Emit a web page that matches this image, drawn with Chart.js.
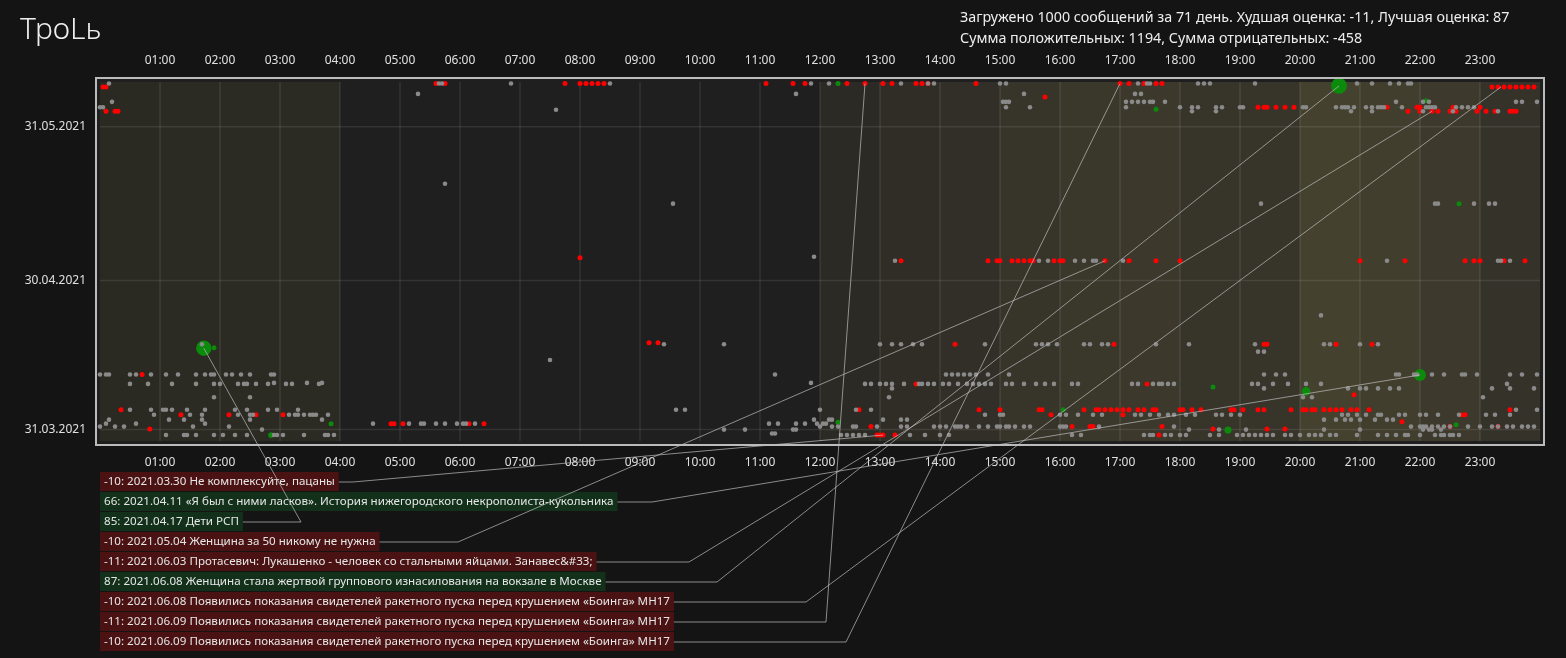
<!DOCTYPE html>
<html><head><meta charset="utf-8">
<script src="https://cdn.jsdelivr.net/npm/chart.js@4"></script>
<style>
body{margin:0;background:#141414;overflow:hidden;font-family:"Noto Sans",sans-serif;}
#wrap{position:absolute;left:0;top:0;width:1566px;height:658px;}
#title{position:absolute;left:20px;top:7px;color:#eee;font-size:30px;font-weight:300;}
#stats{position:absolute;left:960px;top:6px;color:#eee;font-size:14.3px;line-height:21px;}
</style></head><body>
<div id="wrap"><canvas id="c" width="1566" height="658"></canvas></div>
<div id="title">ТроLь</div>
<div id="stats">Загружено 1000 сообщений за 71 день. Худшая оценка: -11, Лучшая оценка: 87<br>Сумма положительных: 1194, Сумма отрицательных: -458</div>
<script>
// y = days since 31.03.2021, x = hour of day
const yTickDays = [0, 30, 61];
const yTickLabels = ['31.03.2021', '30.04.2021', '31.05.2021'];
const hourTicks = [1,2,3,4,5,6,7,8,9,10,11,12,13,14,15,16,17,18,19,20,21,22,23];
// hour band shading
const bandColors = ['#2a2a23','#2b2a23','#2b2a23','#2b2a23','#1f1f1f','#1f1f1f','#1f1f1f','#1f1f1f','#1f1f1f','#1f1f1f','#1f1f1f','#1f1f1f',
 '#2b2a24','#2f2d26','#322f28','#37342a','#3a372b','#3c382c','#37342a','#37342a','#45412f','#423e2e','#3d392c','#35322a'];

const grayRows = [
 [69.7, 0.15,5.65,5.7,6.85,8.5,11.85,12.15,13.35,13.8,13.9,15.0,15.1,17.3,17.45,17.5,18.3,18.4,18.5,19.25,20.95,21.2,21.5,21.65,21.8,21.85],
 [67.6, 5.3,11.6,15.4,17.25,17.35],
 [66.0, 0.2,15.05,15.1,15.15,17.1,17.2,17.3,17.4,17.5,17.55,17.75,21.6,22.05,22.15,23.6,23.7,23.95],
 [64.9, 0.0,0.05,15.1,15.5,17.1,18.0,18.2,18.3,18.6,18.7,19.0,19.05,20.05,20.1,20.6,20.7,20.75,20.8,20.9,21.1,21.2,21.3,21.35,21.4,21.7,22.1,22.15,22.2,22.25,22.6,22.7,22.8,22.9],
 [64.1, 18.2,18.6,20.85,21.2,22.05,22.55,23.3],
 [64.4, 7.6],
 [49.5, 5.75],
 [45.5, 9.55,19.35,22.25,22.3,22.9,23.15,23.25],
 [34.8, 11.9],
 [34.0, 13.25,15.65,15.8,16.25,16.4,16.55,16.6,17.05,21.45,23.3,23.35,23.5],
 [23.0, 20.35],
 [17.2, 1.7,9.4,10.4,13.0,13.2,13.35,13.55,13.7,14.75,15.6,15.7,15.8,15.95,16.4,16.5,16.7,16.8,17.6,18.15,19.25,20.4,20.5,21.0,21.3],
 [15.7, 19.3,19.4],
 [14.0, 7.5],
 [11.1, 0.0,0.1,0.15,0.5,0.6,0.85,1.1,1.3,1.6,1.75,1.85,1.9,2.1,2.2,2.35,2.5,2.85,2.9,11.25,14.1,14.2,14.3,14.4,14.5,14.6,14.8,15.15,19.4,19.6,19.75,21.6,21.65,21.9,21.95,22.2,22.4,22.7,22.75,22.95,23.5,23.7,23.95],
 [9.4, 2.9,3.45,3.7,11.85],
 [9.2, 0.5,0.8,1.2,1.6,1.9,2.0,2.3,2.4,2.45,2.6,2.8,3.1,3.2,3.65,12.75,12.85,13.0,13.1,13.2,13.4,13.65,13.7,13.8,13.9,14.05,14.15,14.3,14.45,14.55,14.65,14.75,14.85,15.1,15.2,15.4,15.6,15.75,15.9,16.2,16.3,17.2,17.3,17.55,17.65,17.7,17.8,17.9,19.2,19.3,19.55,19.8,20.1,20.35,23.45],
 [8.3, 13.2,19.4,20.8,21.0,21.1,21.3,21.5,21.65,23.2,23.5,23.9],
 [6.5, 1.9,2.5,20.05,20.2,23.05,13.15],
 [4.0, 0.5,0.85,1.05,1.1,1.2,1.45,1.75,2.25,2.45,2.8,2.95,3.3,9.6,9.75,12.0,12.6,12.85,23.6,23.95],
 [3.0, 0.9,1.5,1.7,2.3,2.5,2.55,3.15,3.25,3.3,3.4,3.5,3.55,3.6,3.8,14.75,15.0,15.05,16.0,16.1,16.3,16.55,16.7,17.25,17.35,17.5,17.65,17.8,17.9,18.1,18.25,18.6,18.7,18.85,19.0,20.7,20.8,20.95,21.1,21.3,21.35,21.65,21.75,22.0,22.1,22.3,22.65,23.1,23.25,23.5],
 [2.0, 0.15,1.15,1.4,1.7,2.5,3.7,11.9,12.15,12.2,13.05,13.35,13.45,20.4,20.6,20.75,20.85,21.0,21.25,21.45,21.55],
 [1.2, 0.1,0.6,1.75,4.55,5.15,5.35,5.4,5.6,5.75,5.95,6.05,6.1,6.25,11.15,11.3,11.6,11.75,11.95,12.05,12.1],
 [0.6, 0.0,0.25,0.4,1.55,2.15,12.0,12.2,12.3,12.55,12.6,12.95,13.35,13.45,13.9,14.0,14.1,14.25,14.3,14.35,14.45,14.65,14.8,14.95,15.0,15.1,15.15,15.25,15.4,15.5,16.0,16.05,16.1,16.65,17.9,21.85,22.0,22.05,22.1,22.2,22.3,22.4,22.5,22.8,23.0,23.2,23.3,23.45,23.55,23.7,23.8,23.9],
 [0.0, 2.7,10.4,10.75,11.55,11.6,18.15,18.65,19.1,20.4,21.0,22.05,22.15,22.2,22.35],
 [-0.8, 11.2,11.25],
 [-1.1, 1.1,1.4,1.45,1.6,1.9,2.05,2.25,2.45,2.9,2.95,3.05,3.4,3.75,3.8,3.9,12.35,12.45,12.55,12.65,12.75,13.5,13.75,14.0,14.15,16.2,16.35,17.4,17.5,17.55,17.75,17.85,18.0,18.1,18.5,18.65,18.95,19.05,19.15,19.25,19.35,19.45,19.55,19.75,19.85,20.0,20.15,20.25,20.35,20.5,20.6,20.95,21.3,21.45,21.6,21.75,21.8,22.0,22.25,22.35,22.4,22.5,22.55,22.65]
];
const redRows = [
 [69.7, 5.6,5.75,7.75,8.0,8.1,8.2,8.3,8.4,11.1,11.55,11.75,12.45,12.75,13.05,13.2,13.6,13.7,13.8,14.6,17.0,17.15,17.4,17.6,17.7],
 [69.0, 0.05,0.1,23.2,23.3,23.4,23.5,23.6,23.7,23.8,23.9],
 [67.0, 15.75],
 [64.9, 19.3,19.4,19.45,19.6,19.75,19.9,21.45,21.95,22.0,22.55,23.0],
 [64.1, 0.1,0.25,0.3,21.8,22.0,22.2,22.3,22.5,22.6,22.95,23.1,23.25,23.5,23.55,23.6],
 [34.6, 8.0],
 [34.0, 13.35,14.8,14.95,15.0,15.2,15.3,15.4,15.5,15.55,15.9,16.0,16.05,16.75,17.15,17.6,18.0,21.0,21.75,22.75,22.9,23.0,23.4,23.75],
 [17.5, 9.15,9.3],
 [17.2, 14.25,16.9,19.4,19.45,20.6,21.2],
 [11.1, 0.7],
 [9.2, 13.6,17.45],
 [7.0, 20.9],
 [4.0, 0.35,12.65,14.65,15.0,15.65,15.7,16.4,16.6,16.65,16.75,16.85,16.95,17.05,17.15,17.3,17.4,17.55,17.6,18.0,18.05,18.2,18.35,18.85,18.9,19.05,19.3,19.4,19.85,20.05,20.1,20.2,20.25,20.4,20.5,20.6,20.7,20.85,20.95,21.15,23.5],
 [3.0, 1.35,2.15,2.6,3.05,15.85,17.05,22.7,22.75],
 [1.6, 21.7],
 [1.2, 4.85,4.9,5.05,6.15,6.4],
 [0.6, 12.85,16.2,16.5,16.55,17.7,22.5,23.3],
 [0.1, 0.83,18.55,19.45,19.75],
 [-1.1, 12.95,13.0,13.05,13.25,17.65]
];
const greenX = [20.65, 1.73, 22.0, 20.1, 18.8, 2.85, 12.3, 1.9, 17.6, 22.1, 22.65, 3.85, 12.3, 16.05, 18.55, 22.6];
const greenY = [69.2, 16.4, 11.0, 7.7, -0.1, -1.1, 69.7, 16.5, 64.5, 66.2, 45.5, 1.2, 1.5, 4.0, 8.6, 1.0];
const greenV = [87, 85, 66, 30, 25, 20, 5, 5, 10, 5, 5, 5, 5, 5, 5, 5];

const notes = [
 {t:'-10: 2021.03.30 Не комплексуйте, пацаны', pos:false, hx:353, x:13.05, y:-1.1},
 {t:'66: 2021.04.11 «Я был с ними ласков». История нижегородского некрополиста-кукольника', pos:true, hx:652, x:22.0, y:11.0},
 {t:'85: 2021.04.17 Дети РСП', pos:true, hx:301, x:1.73, y:16.4},
 {t:'-10: 2021.05.04 Женщина за 50 никому не нужна', pos:false, hx:458, x:16.75, y:34.0},
 {t:'-11: 2021.06.03 Протасевич: Лукашенко - человек со стальными яйцами. Занавес&#33;', pos:false, hx:689, x:22.2, y:64.1},
 {t:'87: 2021.06.08 Женщина стала жертвой группового изнасилования на вокзале в Москве', pos:true, hx:717, x:20.65, y:69.2},
 {t:'-10: 2021.06.08 Появились показания свидетелей ракетного пуска перед крушением «Боинга» MH17', pos:false, hx:806, x:23.35, y:69.0},
 {t:'-11: 2021.06.09 Появились показания свидетелей ракетного пуска перед крушением «Боинга» MH17', pos:false, hx:826, x:12.75, y:69.7},
 {t:'-10: 2021.06.09 Появились показания свидетелей ракетного пуска перед крушением «Боинга» MH17', pos:false, hx:846, x:17.0, y:69.7}
];

function rowsToPts(rows){const p=[];rows.forEach(r=>{for(let i=1;i<r.length;i++)p.push({x:r[i],y:r[0]});});return p;}
const greenPts = greenX.map((x,i)=>({x:x,y:greenY[i],v:greenV[i]}));

const bandsPlugin = {id:'bands', beforeDatasetsDraw(ch){
  const {ctx, chartArea:a, scales} = ch; const xs=scales.x, ys=scales.y;
  ctx.save();
  ctx.fillStyle='#1f1f1f'; ctx.fillRect(a.left,a.top,a.right-a.left,a.bottom-a.top);
  for(let h=0;h<24;h++){const x0=Math.max(a.left,xs.getPixelForValue(h)), x1=Math.min(a.right,xs.getPixelForValue(h+1));
    ctx.fillStyle=bandColors[h]; ctx.fillRect(x0,a.top+3,x1-x0,a.bottom-a.top-6);}
  ctx.strokeStyle='rgba(255,255,255,0.09)'; ctx.lineWidth=1.5;
  hourTicks.forEach(h=>{const x=xs.getPixelForValue(h);ctx.beginPath();ctx.moveTo(x,a.top+3);ctx.lineTo(x,a.bottom-3);ctx.stroke();});
  yTickDays.forEach(d=>{const y=ys.getPixelForValue(d);ctx.beginPath();ctx.moveTo(a.left+3,y);ctx.lineTo(a.right-3,y);ctx.stroke();});
  ctx.restore();
}, afterDatasetsDraw(ch){
  const {ctx, chartArea:a, scales} = ch;
  ctx.save();
  ctx.strokeStyle='#bbb'; ctx.lineWidth=2; ctx.strokeRect(a.left-1,a.top-1,a.right-a.left+2,a.bottom-a.top+2);
  ctx.font='11.6px "Noto Sans"'; ctx.textBaseline='middle';
  notes.forEach((n,i)=>{
    const top=472+i*20, mid=top+10; const w=ctx.measureText(n.t).width+8;
    ctx.fillStyle=n.pos?'#12301a':'#4a1213'; ctx.fillRect(100,top,w,19);
    ctx.fillStyle='#e6e6e6'; ctx.fillText(n.t,104,mid);
    ctx.strokeStyle='rgba(190,190,190,0.7)'; ctx.lineWidth=1;
    ctx.beginPath(); ctx.moveTo(100+w,mid); ctx.lineTo(n.hx,mid);
    ctx.lineTo(scales.x.getPixelForValue(n.x), scales.y.getPixelForValue(n.y)); ctx.stroke();
  });
  ctx.restore();
}};

const hourLbl = v => (v<10?'0':'')+v+':00';
const xTickCfg = {color:'#e0e0e0', font:{size:12,family:'"Noto Sans"'}, autoSkip:false, maxRotation:0, callback:v=>hourLbl(v)};
new Chart(document.getElementById('c'), {
  type:'scatter',
  data:{datasets:[
    {data:rowsToPts(grayRows), backgroundColor:'#8a8a8a', pointRadius:2.3, borderWidth:0},
    {data:rowsToPts(redRows), backgroundColor:'#ff0000', pointRadius:2.5, borderWidth:0},
    {data:greenPts, backgroundColor:'#0b8a0b', borderWidth:0, pointRadius:c=>{const v=c.raw.v;return v>=60?v/11:(v>=20?v/7:2.5);}}
  ]},
  options:{responsive:false, animation:false, events:[],
    layout:{padding:{left:0,right:23,top:0,bottom:184}},
    plugins:{legend:{display:false},tooltip:{enabled:false}},
    scales:{
      x:{type:'linear', position:'bottom', min:-0.05, max:24.05, grid:{display:false}, border:{display:false},
         afterBuildTicks:s=>{s.ticks=hourTicks.map(v=>({value:v}));}, ticks:xTickCfg,
         afterFit:s=>{s.height=30;}},
      x2:{type:'linear', position:'top', min:-0.05, max:24.05, grid:{display:false}, border:{display:false},
         afterBuildTicks:s=>{s.ticks=hourTicks.map(v=>({value:v}));}, ticks:xTickCfg,
         afterFit:s=>{s.height=79;}},
      y:{type:'linear', min:-2.9, max:70.6, grid:{display:false}, border:{display:false},
         afterBuildTicks:s=>{s.ticks=yTickDays.map(v=>({value:v}));},
         ticks:{color:'#e0e0e0', font:{size:12,family:'"Noto Sans"'}, callback:v=>yTickLabels[yTickDays.indexOf(v)]},
         afterFit:s=>{s.width=97;}}
    }},
  plugins:[bandsPlugin]
});
</script></body></html>
